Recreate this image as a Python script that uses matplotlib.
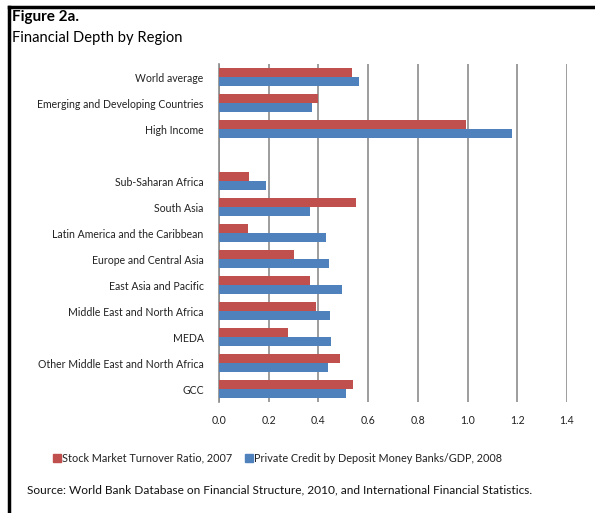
import numpy as np
import matplotlib
matplotlib.use('Agg')
import matplotlib.pyplot as plt
from matplotlib.patches import Rectangle
from matplotlib.lines import Line2D

plt.rcParams['font.family'] = ['Lato', 'DejaVu Sans']

# dane (pusty wiersz = przerwa)
regiony = ['World average', 'Emerging and Developing Countries', 'High Income', '',
           'Sub-Saharan Africa', 'South Asia', 'Latin America and the Caribbean',
           'Europe and Central Asia', 'East Asia and Pacific', 'Middle East and North Africa',
           'MEDA', 'Other Middle East and North Africa', 'GCC']
obrot_akcji = [0.536, 0.397, 0.992, np.nan, 0.122, 0.550, 0.115, 0.300, 0.365, 0.390, 0.279, 0.485, 0.539]
kredyt_pryw = [0.564, 0.375, 1.179, np.nan, 0.188, 0.365, 0.432, 0.444, 0.496, 0.447, 0.450, 0.440, 0.511]
osie_x = [0.0, 0.2, 0.4, 0.6, 0.8, 1.0, 1.2, 1.4]
etyk_x = ['0.0', '0.2', '0.4', '0.6', '0.8', '1.0', '1.2', '1.4']
seria_1 = 'Stock Market Turnover Ratio, 2007'
seria_2 = 'Private Credit by Deposit Money Banks/GDP, 2008'

czerwony = '#C0504D'
niebieski = '#4F81BD'

fig = plt.figure(figsize=(5.95, 5.13), dpi=100)
ax = fig.add_axes([219 / 595, 1 - 402 / 513, 348 / 595, 338 / 513])

y = np.arange(len(regiony))
h = 0.35
ax.barh(y - h / 2, obrot_akcji, height=h, color=czerwony, label=seria_1, zorder=3)
ax.barh(y + h / 2, kredyt_pryw, height=h, color=niebieski, label=seria_2, zorder=3)

ax.set_xlim(0, 1.4)
ax.set_ylim(len(regiony) - 0.5, -0.5)
ax.set_xticks(osie_x)
ax.set_xticklabels(etyk_x)
ax.set_yticks(y)
ax.set_yticklabels(regiony)
ax.tick_params(axis='both', length=0, labelsize=7.6, colors='#222222')
ax.tick_params(axis='y', pad=11)
ax.tick_params(axis='x', pad=9)
ax.grid(axis='x', color='#8c8c8c', linewidth=1.2, zorder=0)
for s in ['top', 'right', 'bottom']:
    ax.spines[s].set_visible(False)
ax.spines['left'].set_color('#8c8c8c')
ax.spines['left'].set_linewidth(1.2)

# tytuł
fig.text(12 / 595, 1 - 17 / 513, 'Figure 2a.', fontsize=11, fontweight='bold', va='center')
fig.text(12 / 595, 1 - 38 / 513, 'Financial Depth by Region', fontsize=10.6, va='center')

# legenda
fig.patches.append(Rectangle((53 / 595, 1 - 462 / 513), 8 / 595, 8 / 513,
                             color=czerwony, transform=fig.transFigure))
fig.text(62 / 595, 1 - 458 / 513, seria_1, fontsize=7.8, va='center', color='#222222')
fig.patches.append(Rectangle((245 / 595, 1 - 462 / 513), 8 / 595, 8 / 513,
                             color=niebieski, transform=fig.transFigure))
fig.text(254 / 595, 1 - 458 / 513, seria_2, fontsize=7.8, va='center', color='#222222')

fig.text(27 / 595, 1 - 490 / 513,
         'Source: World Bank Database on Financial Structure, 2010, and International Financial Statistics.',
         fontsize=8.6, va='center', color='#111111')

# ramka
fig.lines.append(Line2D([9 / 595, 9 / 595], [0, 1 - 7 / 513], color='black', linewidth=2.5,
                        transform=fig.transFigure))
fig.lines.append(Line2D([9 / 595, 1], [1 - 7 / 513, 1 - 7 / 513], color='black', linewidth=2.5,
                        transform=fig.transFigure))

fig.savefig('out.png', dpi=100)
